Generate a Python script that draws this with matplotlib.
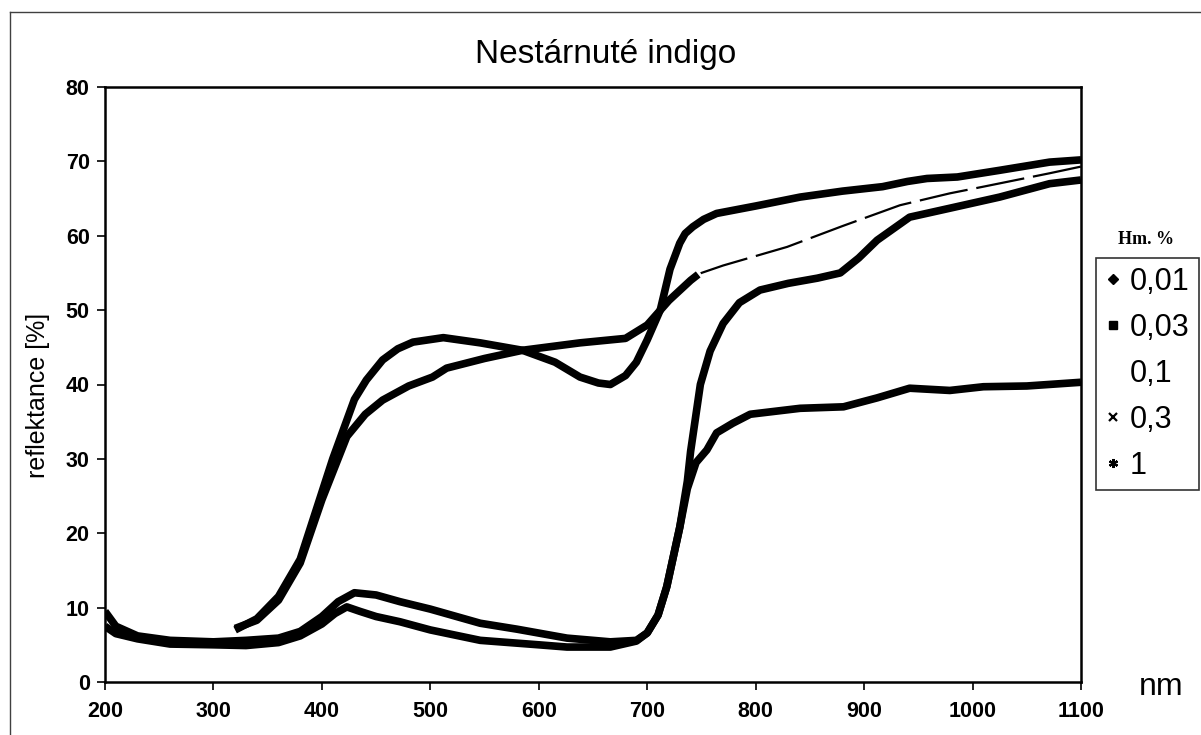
import matplotlib
matplotlib.use('Agg')
import matplotlib.pyplot as plt
from matplotlib.lines import Line2D

plt.rcParams['font.family'] = ['Liberation Sans', 'DejaVu Sans']

# reflectance curves (nm, %)
wl_001 = [320, 340, 360, 380, 400, 410, 420, 430, 441, 456, 470, 484, 512, 546,
          585, 615, 638, 655, 666, 680, 690, 700, 712, 721, 730, 735, 742, 752,
          764, 800, 841, 880, 917, 940, 958, 986, 1025, 1071, 1100]
r_001 = [7.0, 8.5, 11.5, 16.5, 25.5, 30.0, 34.0, 38.0, 40.6, 43.3, 44.8, 45.7, 46.3, 45.6,
         44.6, 43.0, 41.0, 40.2, 40.0, 41.2, 43.0, 46.0, 50.0, 55.5, 59.0, 60.3, 61.2, 62.2,
         63.0, 64.0, 65.2, 66.0, 66.6, 67.3, 67.7, 67.9, 68.8, 69.9, 70.2]

wl_003 = [320, 340, 360, 380, 400, 423, 440, 456, 480, 502, 515, 550, 585, 638,
          680, 700, 720, 740, 747]
r_003 = [7.2, 8.3, 11.0, 16.0, 24.5, 33.0, 36.0, 37.9, 39.8, 41.0, 42.2, 43.5, 44.6, 45.6,
         46.2, 48.0, 51.3, 54.0, 54.8]

wl_01 = [320, 340, 360, 380, 400, 423, 440, 456, 480, 502, 515, 550, 585, 638,
         680, 700, 720, 740, 750, 770, 829, 880, 933, 979, 1010, 1071, 1100]
r_01 = [7.2, 8.3, 11.0, 16.0, 24.5, 33.0, 36.0, 37.9, 39.8, 41.0, 42.2, 43.5, 44.6, 45.6,
        46.2, 48.0, 51.3, 54.0, 55.0, 56.0, 58.5, 61.3, 64.1, 65.7, 66.6, 68.4, 69.3]

wl_03 = [200, 210, 230, 260, 300, 330, 360, 380, 400, 412, 423, 435, 450, 472,
         500, 546, 600, 626, 666, 690, 700, 710, 718, 730, 737, 740, 749, 758,
         770, 785, 804, 830, 857, 878, 895, 912, 942, 979, 1025, 1071, 1100]
r_03 = [7.5, 6.5, 5.8, 5.1, 5.0, 4.9, 5.3, 6.2, 7.8, 9.2, 10.1, 9.5, 8.8, 8.1,
        7.0, 5.6, 5.0, 4.7, 4.7, 5.5, 6.6, 9.0, 12.8, 20.8, 27.0, 31.0, 40.0, 44.5,
        48.2, 51.0, 52.7, 53.6, 54.3, 55.0, 57.0, 59.4, 62.5, 63.7, 65.2, 67.0, 67.5]

wl_1 = [200, 210, 230, 260, 300, 330, 360, 380, 400, 415, 430, 450, 472, 500,
        546, 580, 626, 666, 690, 700, 710, 718, 730, 737, 745, 755, 764, 779,
        795, 841, 881, 912, 942, 979, 1010, 1050, 1100]
r_1 = [9.5, 7.5, 6.2, 5.6, 5.4, 5.6, 5.9, 6.8, 8.8, 10.8, 12.0, 11.7, 10.8, 9.8,
       7.9, 7.1, 5.9, 5.4, 5.6, 6.6, 9.0, 12.8, 20.8, 26.0, 29.5, 31.2, 33.5, 34.8,
       36.0, 36.8, 37.0, 38.2, 39.5, 39.2, 39.7, 39.8, 40.3]

labels = ['0,01', '0,03', '0,1', '0,3', '1']
xticks = list(range(200, 1101, 100))
yticks = list(range(0, 81, 10))

fig = plt.figure(figsize=(12.01, 7.35), dpi=100)
ax = fig.add_axes([105/1201, 1-682/735, (1081-105)/1201, (682-87)/735])

thick = 5.5
kw = dict(color='k', lw=thick, solid_capstyle='butt', solid_joinstyle='round')
ax.plot(wl_01, r_01, color='k', lw=1.6, ls=(0, (22, 4)), dash_joinstyle='round')
ax.plot(wl_001, r_001, **kw)
ax.plot(wl_003, r_003, **kw)
ax.plot(wl_03, r_03, **kw)
ax.plot(wl_1, r_1, **kw)

ax.set_xlim(200, 1100)
ax.set_ylim(0, 80)
ax.set_xticks(xticks)
ax.set_yticks(yticks)
for s in ax.spines.values():
    s.set_linewidth(1.8)
ax.tick_params(axis='both', direction='out', length=6, width=1.2, labelsize=15.5)
ax.tick_params(axis='x', pad=8)
ax.tick_params(axis='y', pad=5)
for lab in ax.get_xticklabels() + ax.get_yticklabels():
    lab.set_fontweight('bold')

fig.text(606/1201, 1-55/735, 'Nestárnuté indigo', ha='center', va='center', fontsize=24)
fig.text(38/1201, 1-395/735, 'reflektance [%]', ha='center', va='center',
         rotation=90, fontsize=18)
fig.text(1161/1201, 1-687/735, 'nm', ha='center', va='center', fontsize=23)

# legend
handles = [
    Line2D([], [], color='k', marker='D', ls='none', ms=5),
    Line2D([], [], color='k', marker='s', ls='none', ms=6),
    Line2D([], [], color='k', marker='', ls='none'),
    Line2D([], [], color='k', marker='x', ls='none', ms=5.5, mew=1.6),
    Line2D([], [], color='k', marker=(6, 2, 0), ls='none', ms=6.5, mew=1.6),
]
leg = ax.legend(handles, labels, loc='upper left',
                bbox_to_anchor=(1096/1201, 1-258/735), bbox_transform=fig.transFigure,
                fontsize=22, frameon=True, fancybox=False, borderpad=0.3,
                labelspacing=0.52, handlelength=0.5, handletextpad=0.3,
                borderaxespad=0)
leg.get_frame().set_edgecolor('k')
leg.get_frame().set_linewidth(1.2)
fig.text(1146/1201, 1-240/735, 'Hm. %', ha='center', va='center', fontsize=13,
         fontweight='bold', family=['Liberation Serif', 'DejaVu Serif'])

# page frame of the scanned sheet
fig.add_artist(Line2D([10/1201, 1], [1-12/735, 1-12/735], color='0.25', lw=1))
fig.add_artist(Line2D([10/1201, 10/1201], [1-12/735, 0], color='0.25', lw=1))

fig.savefig('out.png', dpi=100)
